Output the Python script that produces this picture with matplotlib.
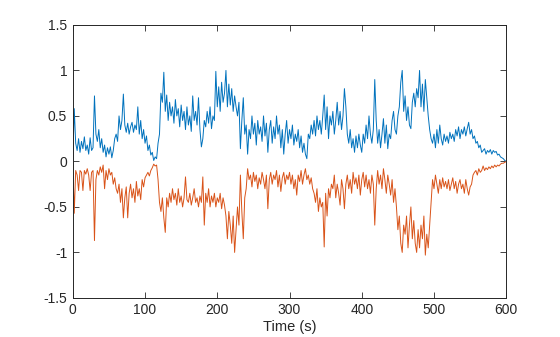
import numpy as np
import matplotlib
matplotlib.use("Agg")
import matplotlib.pyplot as plt

# time axis, one reading every 2 s
t = np.arange(0, 601, 2)

# blue series (upper), 10 readings per row = 20 s
s1 = [0.0, 0.58, 0.2, 0.12, 0.25, 0.1, 0.22, 0.14, 0.27, 0.12,
      0.18, 0.08, 0.26, 0.12, 0.15, 0.72, 0.3, 0.22, 0.35, 0.15,
      0.25, 0.1, 0.18, 0.05, 0.15, 0.08, 0.16, 0.04, 0.12, 0.25,
      0.3, 0.22, 0.5, 0.35, 0.45, 0.74, 0.4, 0.32, 0.42, 0.3,
      0.38, 0.43, 0.32, 0.4, 0.35, 0.6, 0.3, 0.45, 0.25, 0.35,
      0.2, 0.28, 0.12, 0.18, 0.07, 0.1, 0.01, 0.05, 0.03, 0.2,
      0.3, 0.75, 0.65, 0.98, 0.55, 0.73, 0.45, 0.65, 0.5, 0.6,
      0.42, 0.68, 0.5, 0.58, 0.38, 0.62, 0.45, 0.55, 0.35, 0.6,
      0.4, 0.5, 0.33, 0.72, 0.45, 0.55, 0.4, 0.7, 0.35, 0.16,
      0.25, 0.45, 0.38, 0.55, 0.42, 0.6, 0.36, 0.5, 0.45, 0.99,
      0.6, 0.82, 0.55, 0.87, 0.65, 0.75, 1.0, 0.6, 0.85, 0.62,
      0.8, 0.55, 0.72, 0.6, 0.5, 0.65, 0.14, 0.45, 0.7, 0.3,
      0.4, 0.08, 0.35, 0.25, 0.5, 0.3, 0.42, 0.18, 0.45, 0.3,
      0.38, 0.22, 0.5, 0.28, 0.42, 0.1, 0.35, 0.45, 0.2, 0.38,
      0.25, 0.5, 0.3, 0.4, 0.15, 0.35, 0.08, 0.3, 0.45, 0.2,
      0.35, 0.25, 0.4, 0.18, 0.3, 0.22, 0.35, 0.15, 0.28, 0.1,
      0.2, 0.08, 0.03, 0.3, 0.25, 0.4, 0.3, 0.45, 0.28, 0.5,
      0.35, 0.45, 0.3, 0.5, 0.73, 0.35, 0.6, 0.25, 0.5, 0.4,
      0.55, 0.3, 0.45, 0.65, 0.4, 0.55, 0.35, 0.5, 0.8, 0.6,
      0.3, 0.2, 0.35, 0.15, 0.25, 0.1, 0.28, 0.15, 0.3, 0.18,
      0.1, 0.3, 0.2, 0.4, 0.25, 0.5, 0.3, 0.2, 0.35, 0.9,
      0.45, 0.2, 0.35, 0.15, 0.3, 0.47, 0.2, 0.4, 0.14, 0.3,
      0.25, 0.45, 0.55, 0.35, 0.3, 0.5, 0.6, 0.87, 1.0, 0.55,
      0.72, 0.45, 0.6, 0.4, 0.36, 0.65, 0.75, 0.6, 0.8, 0.7,
      1.0, 0.6, 0.85, 0.55, 0.9, 0.7, 0.5, 0.35, 0.25, 0.2,
      0.3, 0.15, 0.35, 0.2, 0.4, 0.25, 0.18, 0.3, 0.22, 0.28,
      0.2, 0.32, 0.25, 0.3, 0.22, 0.35, 0.28, 0.38, 0.25, 0.35,
      0.3, 0.38, 0.28, 0.36, 0.43, 0.3, 0.35, 0.25, 0.28, 0.2,
      0.22, 0.15, 0.18, 0.1, 0.12, 0.14, 0.08, 0.12, 0.1, 0.13,
      0.08, 0.12, 0.1, 0.11, 0.07, 0.08, 0.05, 0.04, 0.03, 0.01,
      0.0]

# orange series (lower)
s2 = [0.0, -0.57, -0.1, -0.15, -0.32, -0.1, -0.12, -0.32, -0.1, -0.14,
      -0.08, -0.15, -0.32, -0.12, -0.1, -0.87, -0.2, -0.1, -0.15, -0.06,
      -0.12, -0.04, -0.3, -0.1, -0.2, -0.08, -0.15, -0.12, -0.25, -0.18,
      -0.3, -0.35, -0.25, -0.45, -0.3, -0.62, -0.4, -0.28, -0.62, -0.35,
      -0.25, -0.4, -0.3, -0.45, -0.22, -0.38, -0.3, -0.42, -0.2, -0.28,
      -0.18, -0.15, -0.12, -0.16, -0.1, -0.07, -0.03, -0.05, -0.04, -0.2,
      -0.45, -0.55, -0.4, -0.62, -0.78, -0.4, -0.5, -0.35, -0.45, -0.3,
      -0.42, -0.35, -0.48, -0.3, -0.45, -0.38, -0.5, -0.4, -0.17, -0.42,
      -0.45, -0.35, -0.48, -0.4, -0.3, -0.45, -0.4, -0.5, -0.38, -0.45,
      -0.17, -0.7, -0.35, -0.45, -0.3, -0.5, -0.38, -0.45, -0.35, -0.5,
      -0.4, -0.45, -0.35, -0.52, -0.4, -0.48, -0.6, -0.85, -0.55, -0.7,
      -0.9, -0.6, -1.0, -0.75, -0.5, -0.7, -0.15, -0.55, -0.85, -0.4,
      -0.3, -0.08, -0.2, -0.15, -0.28, -0.12, -0.22, -0.15, -0.3, -0.18,
      -0.25, -0.12, -0.2, -0.3, -0.15, -0.52, -0.2, -0.12, -0.25, -0.15,
      -0.2, -0.1, -0.28, -0.15, -0.33, -0.18, -0.12, -0.25, -0.15, -0.2,
      -0.12, -0.25, -0.15, -0.3, -0.2, -0.37, -0.15, -0.22, -0.1, -0.25,
      -0.15, -0.08, -0.2, -0.15, -0.25, -0.18, -0.3, -0.35, -0.45, -0.3,
      -0.55, -0.4, -0.5, -0.45, -0.94, -0.35, -0.6, -0.3, -0.4, -0.25,
      -0.3, -0.15, -0.4, -0.25, -0.35, -0.48, -0.2, -0.3, -0.52, -0.25,
      -0.15, -0.3, -0.2, -0.35, -0.12, -0.25, -0.18, -0.3, -0.15, -0.37,
      -0.2, -0.12, -0.28, -0.15, -0.3, -0.2, -0.35, -0.15, -0.25, -0.7,
      -0.3, -0.1, -0.25, -0.15, -0.3, -0.08, -0.2, -0.35, -0.15, -0.25,
      -0.37, -0.2, -0.45, -0.3, -0.5, -0.75, -0.6, -0.9, -1.0, -0.7,
      -0.8, -0.6, -0.95, -0.7, -0.5, -0.85, -0.65, -0.9, -1.0, -0.75,
      -0.95, -0.7, -0.85, -0.6, -1.03, -0.8, -0.95, -0.7, -0.45, -0.2,
      -0.3, -0.15, -0.25, -0.35, -0.2, -0.3, -0.18, -0.28, -0.22, -0.3,
      -0.2, -0.32, -0.25, -0.18, -0.3, -0.22, -0.35, -0.25, -0.2, -0.3,
      -0.25, -0.35, -0.2, -0.3, -0.37, -0.28, -0.25, -0.15, -0.12, -0.1,
      -0.15, -0.08, -0.12, -0.1, -0.05, -0.1, -0.07, -0.09, -0.06, -0.08,
      -0.05, -0.07, -0.04, -0.06, -0.04, -0.05, -0.03, -0.02, -0.02, -0.01,
      0.0]

xticks = [0, 100, 200, 300, 400, 500, 600]
yticks = [-1.5, -1, -0.5, 0, 0.5, 1, 1.5]
ylabels = ["-1.5", "-1", "-0.5", "0", "0.5", "1", "1.5"]

plt.rcParams['font.family'] = ['Liberation Sans', 'DejaVu Sans']
grey = (0.15, 0.15, 0.15)

fig = plt.figure(figsize=(5.6, 3.37), dpi=100)
ax = fig.add_axes([0.13, 0.116, 0.774, 0.81])

ax.plot(t, s1, color="#0072BD", lw=0.7)
ax.plot(t, s2, color="#D95319", lw=0.7)

ax.set_xlim(0, 600)
ax.set_ylim(-1.5, 1.5)
ax.set_xticks(xticks)
ax.set_yticks(yticks)
ax.set_yticklabels(ylabels)
ax.set_xlabel("Time (s)", fontsize=10.5, color=grey, labelpad=2)

ax.tick_params(direction="in", top=True, right=True, length=4,
               width=0.6, labelsize=10, colors=grey, pad=4)
for sp in ax.spines.values():
    sp.set_color(grey)
    sp.set_linewidth(0.7)

fig.savefig("out.png", dpi=100)
